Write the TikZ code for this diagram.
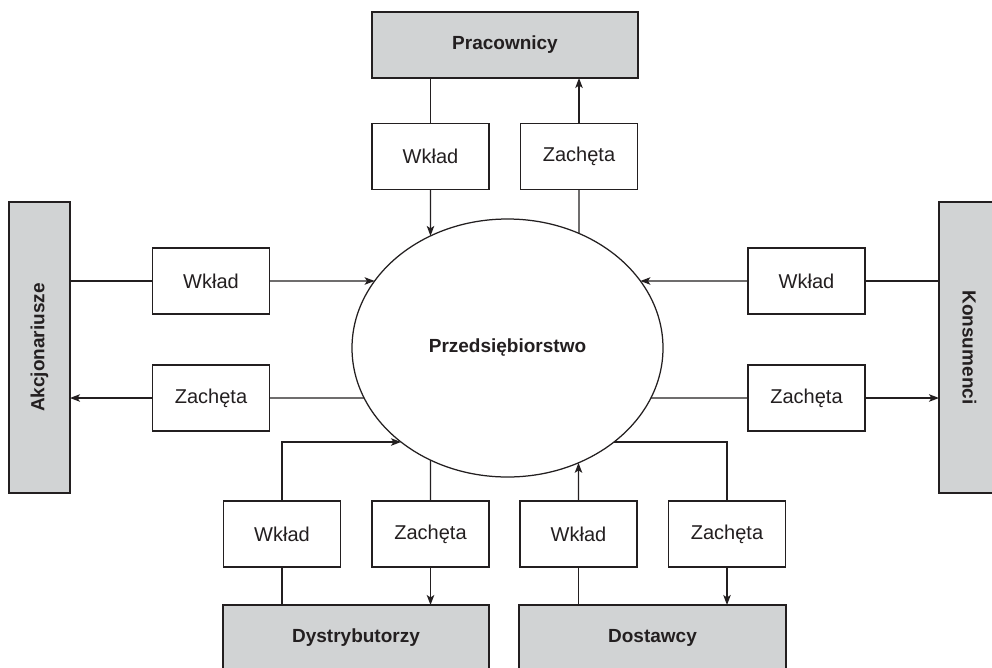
\documentclass[tikz,border=0pt]{standalone}
\usepackage{fontspec}
\setmainfont{Liberation Sans}
\usetikzlibrary{arrows.meta,shapes.geometric,intersections}
\definecolor{ink}{HTML}{231F20}
\definecolor{boxgray}{HTML}{D1D3D4}
\begin{document}
\begin{tikzpicture}[x=1pt,y=-1pt,
  line width=1.25pt, draw=ink, color=ink,
  base/.style={draw=ink, line width=1.25pt, inner sep=0pt, outer sep=0pt, font=\fontsize{20}{24}\selectfont},
  party/.style={base, rectangle, fill=boxgray, font=\fontsize{19}{23}\selectfont\bfseries},
  flowbox/.style={base, rectangle, fill=white, minimum width=117pt, minimum height=66pt},
  firm/.style={base, ellipse, minimum width=311pt, minimum height=258pt, font=\fontsize{19}{23}\selectfont\bfseries},
  arr/.style={-{Stealth[length=10pt,width=7.5pt,inset=2.5pt]}},
  ln/.style={draw=ink, line width=1.25pt}]
\clip (0,0) rectangle (992,667);
\fill[white] (0,0) rectangle (992,667);

% main parties
\node[party, minimum width=266pt, minimum height=66pt] (P) at (505,45) {Pracownicy};
\node[party, minimum width=61pt, minimum height=291pt] (A) at (39.5,347.5) {};
\node[rotate=90, font=\fontsize{19}{23}\selectfont\bfseries] (At) at (A.center) {Akcjonariusze};
\node[party, minimum width=61pt, minimum height=291pt] (K) at (969.5,347.5) {};
\node[rotate=-90, font=\fontsize{19}{23}\selectfont\bfseries] (Kt) at (K.center) {Konsumenci};
\node[party, minimum width=266pt, minimum height=66pt] (D) at (356,638) {Dystrybutorzy};
\node[party, minimum width=267pt, minimum height=66pt] (S) at (652.5,638) {Dostawcy};

% firm
\node[firm] (E) at (507.5,348) {Przedsiębiorstwo};
\path[name path=ell] (507.5,348) ellipse [x radius=155.5, y radius=129];

% flow boxes
\node[flowbox] (tW) at (430.5,156.5) {Wkład};
\node[flowbox] (tZ) at (579,156.5) {Zachęta};
\node[flowbox] (lW) at (211,281) {Wkład};
\node[flowbox] (lZ) at (211,398) {Zachęta};
\node[flowbox] (rW) at (806.5,281) {Wkład};
\node[flowbox] (rZ) at (806.5,398) {Zachęta};
\node[flowbox] (bW1) at (282,534) {Wkład};
\node[flowbox] (bZ1) at (430.5,534) {Zachęta};
\node[flowbox] (bW2) at (578.5,534) {Wkład};
\node[flowbox] (bZ2) at (727,534) {Zachęta};

\coordinate (lowrow) at (0,442);

% intersection helpers
\path[name path=vTW] (tW.south) -- ++(0,150);
\path[name intersections={of=ell and vTW, by=eTW}];
\path[name path=vTZ] (tZ.south) -- ++(0,150);
\path[name intersections={of=ell and vTZ, by=eTZ}];
\path[name path=hLW] (lW.east) -- ++(150,0);
\path[name intersections={of=ell and hLW, by=eLW}];
\path[name path=hLZ] (lZ.east) -- ++(150,0);
\path[name intersections={of=ell and hLZ, by=eLZ}];
\path[name path=hRW] (rW.west) -- ++(-150,0);
\path[name intersections={of=ell and hRW, by=eRW}];
\path[name path=hRZ] (rZ.west) -- ++(-150,0);
\path[name intersections={of=ell and hRZ, by=eRZ}];
\path[name path=hB1] (bW1.north |- lowrow) -- ++(200,0);
\path[name intersections={of=ell and hB1, by=eBW1}];
\path[name path=vBZ1] (bZ1.north) -- ++(0,-150);
\path[name intersections={of=ell and vBZ1, by=eBZ1}];
\path[name path=vBW2] (bW2.north) -- ++(0,-150);
\path[name intersections={of=ell and vBW2, by=eBW2}];
\path[name path=hB2] (bZ2.north |- lowrow) -- ++(-200,0);
\path[name intersections={of=ell and hB2, by=eBZ2}];

% Pracownicy
\draw[ln] (P.south -| tW.north) -- (tW.north);
\draw[ln,arr] (tW.south) -- (eTW);
\draw[ln] (eTZ) -- (tZ.south);
\draw[ln,arr] (tZ.north) -- (P.south -| tZ.north);

% Akcjonariusze
\draw[ln] (A.east |- lW.west) -- (lW.west);
\draw[ln,arr] (lW.east) -- (eLW);
\draw[ln] (eLZ) -- (lZ.east);
\draw[ln,arr] (lZ.west) -- (A.east |- lZ.west);

% Konsumenci
\draw[ln] (K.west |- rW.east) -- (rW.east);
\draw[ln,arr] (rW.west) -- (eRW);
\draw[ln] (eRZ) -- (rZ.west);
\draw[ln,arr] (rZ.east) -- (K.west |- rZ.east);

% Dystrybutorzy
\draw[ln] (D.north -| bW1.south) -- (bW1.south);
\draw[ln,arr] (bW1.north) |- (eBW1);
\draw[ln] (eBZ1) -- (bZ1.north);
\draw[ln,arr] (bZ1.south) -- (D.north -| bZ1.south);

% Dostawcy
\draw[ln] (S.north -| bW2.south) -- (bW2.south);
\draw[ln,arr] (bW2.north) -- (eBW2);
\draw[ln] (eBZ2) -| (bZ2.north);
\draw[ln,arr] (bZ2.south) -- (S.north -| bZ2.south);
\end{tikzpicture}
\end{document}
